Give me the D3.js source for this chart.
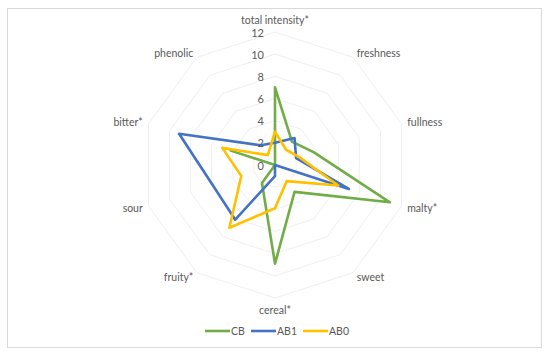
<!DOCTYPE html>
<html>
<head>
<meta charset="utf-8">
<script src="https://cdn.jsdelivr.net/npm/d3@7/dist/d3.min.js"></script>
<style>
  html, body { margin: 0; padding: 0; background: #fff; }
  svg { display: block; }
  text { font-family: Lato, "Open Sans", sans-serif; fill: #595959; }
</style>
</head>
<body>
<svg id="chart" width="550" height="356"></svg>
<script>
const categories = ["total intensity*", "freshness", "fullness", "malty*", "sweet", "cereal*", "fruity*", "sour", "bitter*", "phenolic"];
const seriesNames = ["CB", "AB1", "AB0"];
const CB  = [7.0, 2.6, 3.7, 10.9, 3.0, 8.9, 2.0, 0.0, 4.2, 0.0];
const AB1 = [2.0, 3.0, 2.0, 7.0, 0.0, 1.0, 6.1, 5.9, 9.1, 2.2];
const AB0 = [3.0, 1.7, 2.3, 6.0, 1.8, 3.9, 7.0, 3.2, 5.0, 1.1];
const tickValues = [0, 2, 4, 6, 8, 10, 12];
const colors = ["#70AD47", "#4472C4", "#FFC000"];

const svg = d3.select("#chart");
const cx = 275, cy = 165;

svg.append("rect").attr("x", 7.5).attr("y", 8.5).attr("width", 534).attr("height", 339)
  .attr("fill", "#fff").attr("stroke", "#d9d9d9").attr("stroke-width", 1);

const r = d3.scaleLinear().domain([0, 12]).range([0, 133]);
const angle = d3.scaleLinear().domain([0, categories.length]).range([0, 2 * Math.PI]);

const g = svg.append("g").attr("transform", `translate(${cx},${cy})`);

// grid rings
const ringLine = d3.lineRadial().angle((d, i) => angle(i)).radius(d => r(d)).curve(d3.curveLinearClosed);
tickValues.filter(v => v > 0).forEach(v => {
  g.append("path").attr("d", ringLine(categories.map(() => v)))
    .attr("fill", "none").attr("stroke", "#efefef").attr("stroke-width", 1);
});

// series
const data = [CB, AB1, AB0];
const line = d3.lineRadial().angle((d, i) => angle(i)).radius(d => r(d)).curve(d3.curveLinearClosed);
data.forEach((vals, k) => {
  g.append("path").attr("d", line(vals))
    .attr("fill", "none").attr("stroke", colors[k]).attr("stroke-width", 2.6)
    .attr("stroke-linejoin", "round");
});

// tick labels
g.selectAll("text.tick").data(tickValues).enter().append("text")
  .attr("class", "tick")
  .attr("x", -11).attr("y", d => -r(d))
  .attr("text-anchor", "end").attr("dominant-baseline", "central")
  .attr("font-size", "11px").text(d => d);

// category labels
categories.forEach((c, i) => {
  const a = angle(i);
  const sx = Math.sin(a), sy = -Math.cos(a);
  const R = r(12);
  const off = Math.abs(sx) < 0.01 ? 12 : 6;
  const x = (R + off) * sx, y = (R + off) * sy;
  g.append("text")
    .attr("x", x).attr("y", y)
    .attr("text-anchor", sx > 0.01 ? "start" : (sx < -0.01 ? "end" : "middle"))
    .attr("dominant-baseline", "central")
    .attr("font-size", "10.5px").text(c);
});

// legend
const legendX = [205, 251, 303];
const legendY = 331;
seriesNames.forEach((n, k) => {
  svg.append("line").attr("x1", legendX[k]).attr("x2", legendX[k] + 25)
    .attr("y1", legendY).attr("y2", legendY)
    .attr("stroke", colors[k]).attr("stroke-width", 2.6);
  svg.append("text").attr("x", legendX[k] + 26).attr("y", legendY)
    .attr("dominant-baseline", "central").attr("font-size", "10.5px").text(n);
});
</script>
</body>
</html>
